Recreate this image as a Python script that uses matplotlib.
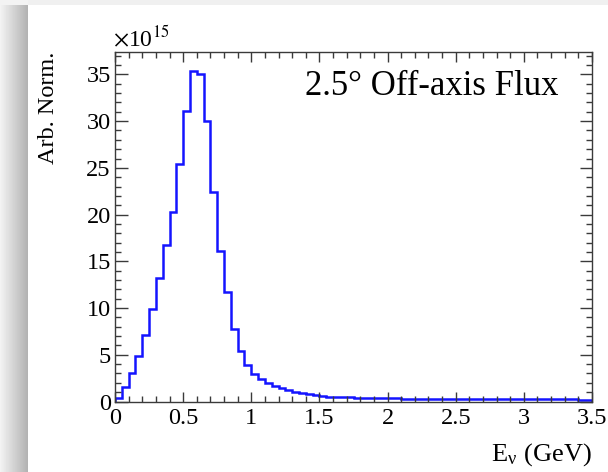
import numpy as np
import matplotlib
matplotlib.use("Agg")
import matplotlib.pyplot as plt
from matplotlib.ticker import MultipleLocator

plt.rcParams['font.family'] = ['Liberation Serif', 'DejaVu Serif']
plt.rcParams['mathtext.fontset'] = 'stix'

# flux per 0.05 GeV bin, in units of 1e15
bin_lo = 0.0
bin_hi = 3.5
flux = [0.35, 1.5, 3.1, 4.9, 7.1, 9.9, 13.2, 16.7, 20.3, 25.4,
        31.1, 35.4, 35.0, 30.0, 22.4, 16.1, 11.7, 7.8, 5.4, 3.9,
        2.9, 2.4, 2.0, 1.7, 1.45, 1.25, 1.05, 0.9, 0.78, 0.7,
        0.6, 0.52, 0.47, 0.45, 0.43, 0.41, 0.39, 0.37, 0.36, 0.35,
        0.34, 0.33, 0.32, 0.31, 0.3, 0.29, 0.28, 0.26, 0.25, 0.27,
        0.27, 0.26, 0.26, 0.25, 0.25, 0.25, 0.24, 0.25, 0.24, 0.24,
        0.23, 0.23, 0.23, 0.23, 0.22, 0.22, 0.22, 0.22, 0.21, 0.21]
edges = np.linspace(bin_lo, bin_hi, len(flux) + 1)
x_ticks = [0, 0.5, 1, 1.5, 2, 2.5, 3, 3.5]
x_ticklabels = ['0', '0.5', '1', '1.5', '2', '2.5', '3', '3.5']
y_ticks = [0, 5, 10, 15, 20, 25, 30, 35]

W, H = 608, 472
fig = plt.figure(figsize=(W / 100, H / 100), dpi=100)

# screenshot card with a soft shadow on the left / top
bg = np.ones((H, W))
ramp = np.linspace(0.95, 0.70, 28)
bg[:, :28] = ramp[None, :]
bg[:5, :] = 0.94
bg[:5, :28] = 0.95
bax = fig.add_axes([0, 0, 1, 1], zorder=-1)
bax.imshow(bg, cmap='gray', vmin=0, vmax=1, aspect='auto', interpolation='bilinear')
bax.axis('off')

ax = fig.add_axes([115 / W, 70.5 / H, (592 - 115) / W, (401.5 - 52) / H])
ax.stairs(flux, edges, baseline=0, color='#1414ff', lw=1.8)

ax.set_xlim(bin_lo, bin_hi)
ax.set_ylim(0, 37.4)
ax.set_xticks(x_ticks)
ax.set_xticklabels(x_ticklabels)
ax.set_yticks(y_ticks)
ax.xaxis.set_minor_locator(MultipleLocator(0.1))
ax.yaxis.set_minor_locator(MultipleLocator(1))

frame = '#3a3a3a'
for s in ax.spines.values():
    s.set_color(frame)
    s.set_linewidth(1.0)
ax.tick_params(which='both', direction='in', top=True, right=True, color=frame,
               width=1.0, labelsize=17.5, labelcolor='black')
ax.tick_params(axis='y', which='major', length=9, pad=3)
ax.tick_params(axis='y', which='minor', length=4.5)
ax.tick_params(axis='x', which='major', length=7.5, pad=5)
ax.tick_params(axis='x', which='minor', length=4)

ax.text(-0.004, 1.003, r'$\times$10$^{15}$', transform=ax.transAxes,
        ha='left', va='bottom', fontsize=17)
ax.text(0.93, 0.90, '2.5\u00b0 Off-axis Flux', transform=ax.transAxes,
        ha='right', va='center', fontsize=25)

fig.text(48 / W, 0.89, 'Arb. Norm.', rotation=90, ha='center', va='top', fontsize=17.5)
fig.text(592 / W, 17 / H, r'E$_\mathregular{ν}$ (GeV)', ha='right', va='center', fontsize=19)

fig.savefig('out.png', dpi=100)
